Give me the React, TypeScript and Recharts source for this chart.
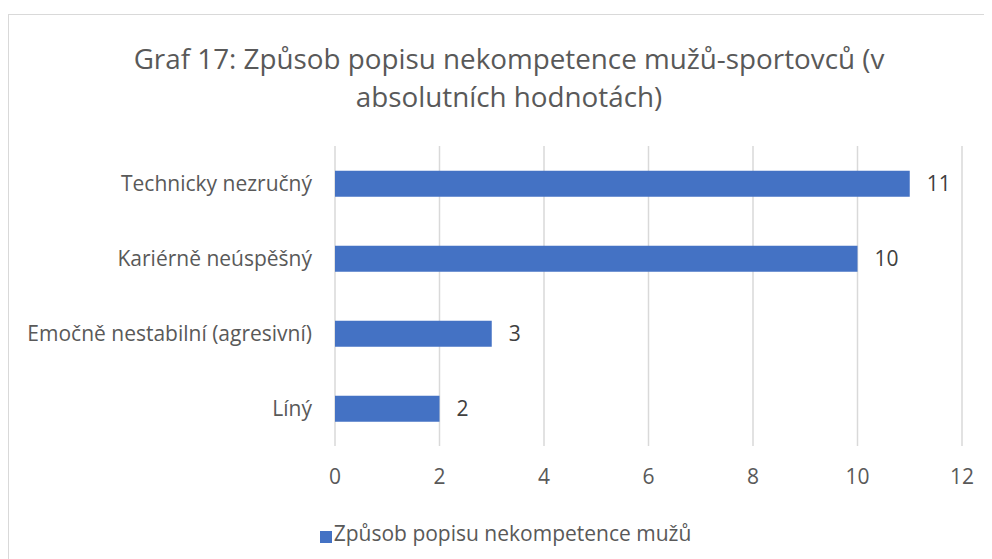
import React from 'react';
import { BarChart, Bar, XAxis, YAxis, CartesianGrid, Legend, LabelList } from 'recharts';

// Categories top to bottom, as in the reference
const categories = ['Technicky nezručný', 'Kariérně neúspěšný', 'Emočně nestabilní (agresivní)', 'Líný'];
const counts = [11, 10, 3, 2];
const xTicks = [0, 2, 4, 6, 8, 10, 12];
const seriesName = 'Způsob popisu nekompetence mužů';
const titleLines = ['Graf 17: Způsob popisu nekompetence mužů-sportovců (v', 'absolutních hodnotách)'];

const FONT = '"Open Sans", sans-serif';
const TEXT = '#595959';
const BAR = '#4472C4';
const FS = 21;

const App: React.FC = () => {
  const data = categories.map((name, i) => ({ name, value: counts[i] }));

  return (
    <div
      style={{
        position: 'relative',
        marginTop: 6,
        width: 984,
        height: 545,
        borderTop: '1px solid #d9d9d9',
        borderLeft: '1px solid #d9d9d9',
        background: '#fff',
        fontFamily: FONT,
        overflow: 'hidden',
      }}
    >
      <div
        style={{
          position: 'absolute',
          top: 24,
          left: 0,
          width: 1000,
          textAlign: 'center',
          color: TEXT,
          fontSize: 27.8,
          lineHeight: '38px',
        }}
      >
        {titleLines.map((l) => (
          <div key={l}>{l}</div>
        ))}
      </div>
      <BarChart
        width={984}
        height={545}
        data={data}
        layout="vertical"
        barCategoryGap="33%"
        margin={{ top: 131, right: 31, left: 50, bottom: 17 }}
        style={{ position: 'absolute', top: 0, left: 0 }}
      >
        <CartesianGrid horizontal={false} stroke="#d9d9d9" strokeWidth={1.5} />
        <XAxis
          type="number"
          domain={[0, 12]}
          ticks={xTicks}
          axisLine={false}
          tickLine={false}
          tickMargin={17}
          height={73}
          tick={{ fill: TEXT, fontSize: FS, fontFamily: FONT }}
        />
        <YAxis
          type="category"
          dataKey="name"
          width={276}
          axisLine={false}
          tickLine={false}
          tickMargin={17}
          tick={{ fill: TEXT, fontSize: FS, fontFamily: FONT }}
        />
        <Legend
          verticalAlign="bottom"
          align="center"
          iconType="square"
          iconSize={12}
          formatter={(v) => <span style={{ color: TEXT, fontSize: FS, fontFamily: FONT, marginLeft: -2 }}>{v}</span>}
          wrapperStyle={{ height: 24 }}
        />
        <Bar dataKey="value" name={seriesName} fill={BAR} isAnimationActive={false}>
          <LabelList dataKey="value" position="right" offset={17} fill="#404040" fontSize={FS} fontFamily={FONT} />
        </Bar>
      </BarChart>
    </div>
  );
};

export default App;
